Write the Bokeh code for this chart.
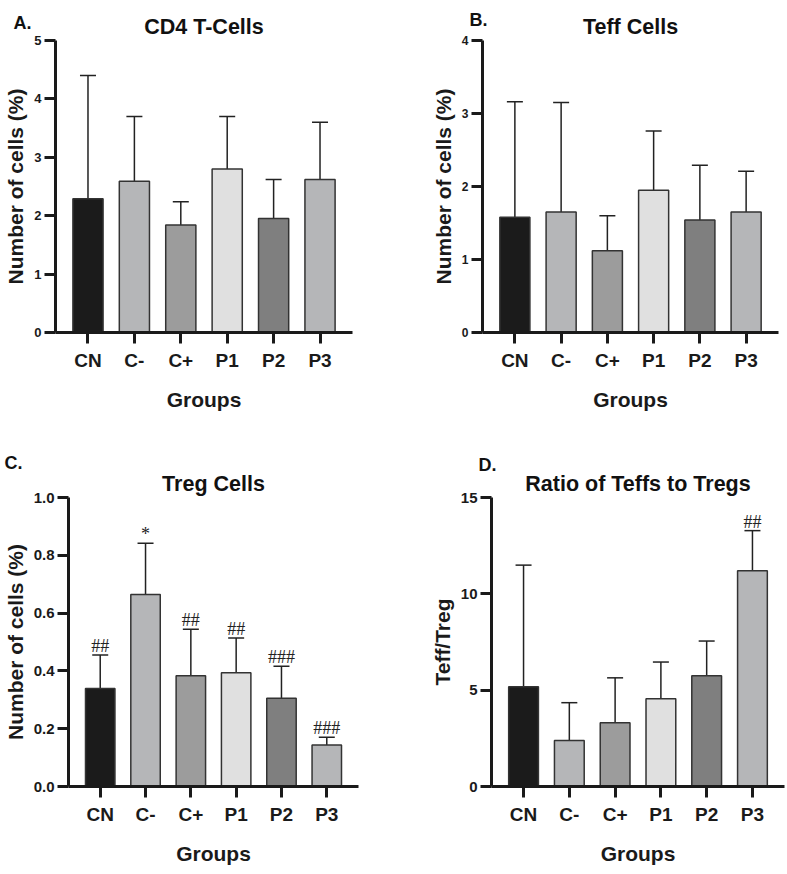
from bokeh.plotting import figure
from bokeh.layouts import column, row
from bokeh.models import Range1d, FixedTicker, ColumnDataSource, Whisker, TeeHead, Label
from bokeh.core.properties import value
from bokeh.embed import file_html
from bokeh.resources import INLINE

# ---------------- data ----------------
groups = ["CN", "C-", "C+", "P1", "P2", "P3"]
bar_colors = ["#1b1b1b", "#b5b6b8", "#9c9c9c", "#e0e0e0", "#7f7f7f", "#b5b6b8"]

cd4_mean = [2.29, 2.59, 1.84, 2.80, 1.95, 2.62]
cd4_sd = [2.11, 1.11, 0.40, 0.90, 0.67, 0.98]

teff_mean = [1.58, 1.65, 1.12, 1.95, 1.54, 1.65]
teff_sd = [1.58, 1.50, 0.48, 0.81, 0.75, 0.56]

treg_mean = [0.339, 0.664, 0.383, 0.394, 0.305, 0.144]
treg_sd = [0.116, 0.178, 0.161, 0.120, 0.111, 0.026]
treg_marks = ["##", "*", "##", "##", "###", "###"]

ratio_mean = [5.18, 2.39, 3.31, 4.55, 5.75, 11.2]
ratio_sd = [6.31, 1.96, 2.33, 1.91, 1.80, 2.08]
ratio_marks = ["", "", "", "", "", "##"]

cd4_ticks = [0, 1, 2, 3, 4, 5]
cd4_tick_labels = ["0", "1", "2", "3", "4", "5"]
teff_ticks = [0, 1, 2, 3, 4]
teff_tick_labels = ["0", "1", "2", "3", "4"]
treg_ticks = [0.0, 0.2, 0.4, 0.6, 0.8, 1.0]
treg_tick_labels = ["0.0", "0.2", "0.4", "0.6", "0.8", "1.0"]
ratio_ticks = [0, 5, 10, 15]
ratio_tick_labels = ["0", "5", "10", "15"]

FONT = "Liberation Sans"
X_START, X_END = -0.7, 5.7


def make_panel(title, letter, mean, sd, marks, ticks, tick_labels, ylabel,
               width, height, borders, letter_off, letter_side, tick_size):
    idx = list(range(len(groups)))
    upper = [m + s for m, s in zip(mean, sd)]
    src = ColumnDataSource(dict(x=idx, mean=mean, upper=upper, color=bar_colors,
                                mark=marks if marks else [""] * len(groups)))
    p = figure(width=width, height=height, output_backend="svg", toolbar_location=None,
               x_range=Range1d(X_START, X_END), y_range=Range1d(ticks[0], ticks[-1]),
               min_border_left=borders[0], min_border_right=borders[1],
               min_border_top=borders[2], min_border_bottom=borders[3],
               title=title)
    p.outline_line_color = None
    p.grid.visible = False
    p.background_fill_color = "white"
    p.border_fill_color = "white"

    p.title.align = "center"
    p.title.text_font = FONT
    p.title.text_font_style = "bold"
    p.title.text_font_size = "21.5px"
    p.title.text_color = "#111111"
    p.title.standoff = 4

    w = Whisker(base="x", lower="mean", upper="upper", source=src, dimension="height",
                line_color="#222222", line_width=1.5,
                upper_head=TeeHead(size=16, line_color="#222222", line_width=1.5),
                lower_head=None, level="underlay")
    p.add_layout(w)
    p.vbar(x="x", top="mean", width=0.65, bottom=0, source=src, fill_color="color",
           line_color="#333333", line_width=1.5)

    if marks:
        p.text(x="x", y="upper", text="mark", source=src, text_align="center",
               text_baseline="alphabetic", y_offset=-9,
               text_font=value("Liberation Serif"), text_font_size="18px",
               text_color="#222222")

    for ax in (p.xaxis[0], p.yaxis[0]):
        ax.axis_line_width = 3
        ax.axis_line_color = "#1a1a1a"
        ax.major_tick_line_width = 3
        ax.major_tick_line_color = "#1a1a1a"
        ax.major_tick_in = 0
        ax.major_tick_out = 11
        ax.minor_tick_line_color = None
        ax.major_label_text_font = FONT
        ax.major_label_text_font_style = "bold"
        ax.major_label_text_color = "#1a1a1a"
        ax.axis_label_text_font = FONT
        ax.axis_label_text_font_style = "bold"
        ax.axis_label_text_font_size = "21px"
        ax.axis_label_text_color = "#1a1a1a"

    p.xaxis.ticker = FixedTicker(ticks=idx)
    p.xaxis.major_label_overrides = {i: g for i, g in enumerate(groups)}
    p.xaxis.major_label_text_font_size = "19px"
    p.xaxis.major_label_standoff = 6
    p.xaxis.axis_label = "Groups"
    p.xaxis.axis_label_standoff = 14

    p.yaxis.ticker = FixedTicker(ticks=ticks)
    p.yaxis.major_label_overrides = {t: l for t, l in zip(ticks, tick_labels)}
    p.yaxis.major_label_text_font_size = tick_size
    p.yaxis.major_label_standoff = 3
    p.yaxis.axis_label = ylabel
    p.yaxis.axis_label_standoff = 4

    # panel letter: placed in a side panel (not clipped to the frame)
    p.add_layout(Label(x=X_START, y=ticks[-1], x_offset=letter_off[0], y_offset=letter_off[1],
                       text=letter, text_font=FONT, text_font_style="bold",
                       text_font_size="18px", text_baseline="top", text_color="#111111"),
                 letter_side)
    return p


pA = make_panel("CD4 T-Cells", "A.", cd4_mean, cd4_sd, None, cd4_ticks, cd4_tick_labels,
                "Number of cells (%)", 390, 420, (55, 38, 40, 87), (-42, 28), "right", "13px")
pB = make_panel("Teff Cells", "B.", teff_mean, teff_sd, None, teff_ticks, teff_tick_labels,
                "Number of cells (%)", 396, 420, (92, 8, 38, 88), (-13, 31), "left", "12px")
pC = make_panel("Treg Cells", "C.", treg_mean, treg_sd, treg_marks, treg_ticks, treg_tick_labels,
                "Number of cells (%)", 390, 450, (68, 32, 77, 84), (-64, 45), "right", "15px")
pD = make_panel("Ratio of Teffs to Tregs", "D.", ratio_mean, ratio_sd, ratio_marks, ratio_ticks,
                ratio_tick_labels, "Teff/Treg", 396, 450, (101, 2, 77, 79), (-13, 43), "left", "15px")

layout = column(row(pA, pB), row(pC, pD))
open("out.html", "w").write(file_html(layout, INLINE))
